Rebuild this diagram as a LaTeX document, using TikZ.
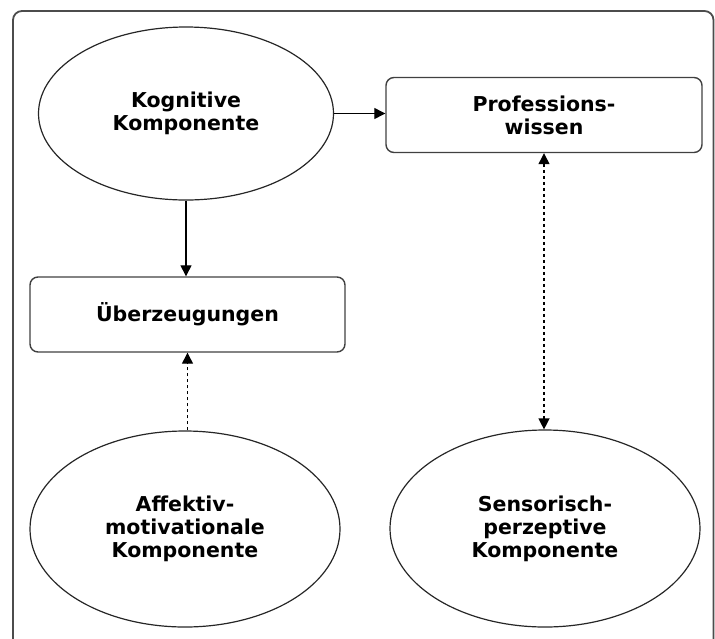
\documentclass[tikz,border=0pt]{standalone}
\usepackage{fontspec}
\setmainfont{DejaVu Sans}
\usetikzlibrary{shapes.geometric,arrows.meta}

\tikzset{
  komp/.style={ellipse, draw=black!85, line width=1.2pt, inner sep=0pt, align=center, font=\bfseries\fontsize{20.5}{23}\selectfont},
  wbox/.style={rectangle, rounded corners=8pt, draw=black!75, line width=1.4pt, inner sep=0pt, align=center, font=\bfseries\fontsize{20.5}{23}\selectfont},
  pfeil/.style={line width=1.3pt, -{Triangle[length=11pt,width=11pt]}},
  gestrichelt/.style={pfeil, dash pattern=on 3pt off 3pt}
}

\begin{document}
\begin{tikzpicture}[x=1pt, y=-1pt]
		\useasboundingbox (0,0) rectangle (715,638);
		% Frame:
		\begin{scope}
		\clip (0,0) rectangle (715,638);
		\draw[black!70, line width=1.8pt, rounded corners=9pt] (13,11) rectangle (713.5,670);
		\end{scope}
		% Nodes:
		\node[komp, minimum width=295pt, minimum height=173pt] (kog) at (186,113.5) {Kognitive\\Komponente};
		\node[wbox, minimum width=316pt, minimum height=75pt] (prof) at (544,115) {Professions-\\wissen};
		\node[wbox, minimum width=315pt, minimum height=75pt] (ueber) at (187.5,314.5) {Überzeugungen};
		\node[komp, minimum width=310pt, minimum height=196pt] (aff) at (185,529) {Affektiv-\\motivationale\\Komponente};
		\node[komp, minimum width=310pt, minimum height=197pt] (sens) at (545,528.5) {Sensorisch-\\perzeptive\\Komponente};
		% Arrows:
		\draw[pfeil] (kog.east) -- (kog.east -| prof.west);
		\draw[pfeil] (kog.south) -- (kog.south |- ueber.north);
		\draw[gestrichelt] (aff.north -| ueber.south) -- (ueber.south);
		\draw[gestrichelt, {Triangle[length=11pt,width=11pt]}-{Triangle[length=11pt,width=11pt]}] (prof.south) -- (prof.south |- sens.north);
	\end{tikzpicture}
\end{document}
